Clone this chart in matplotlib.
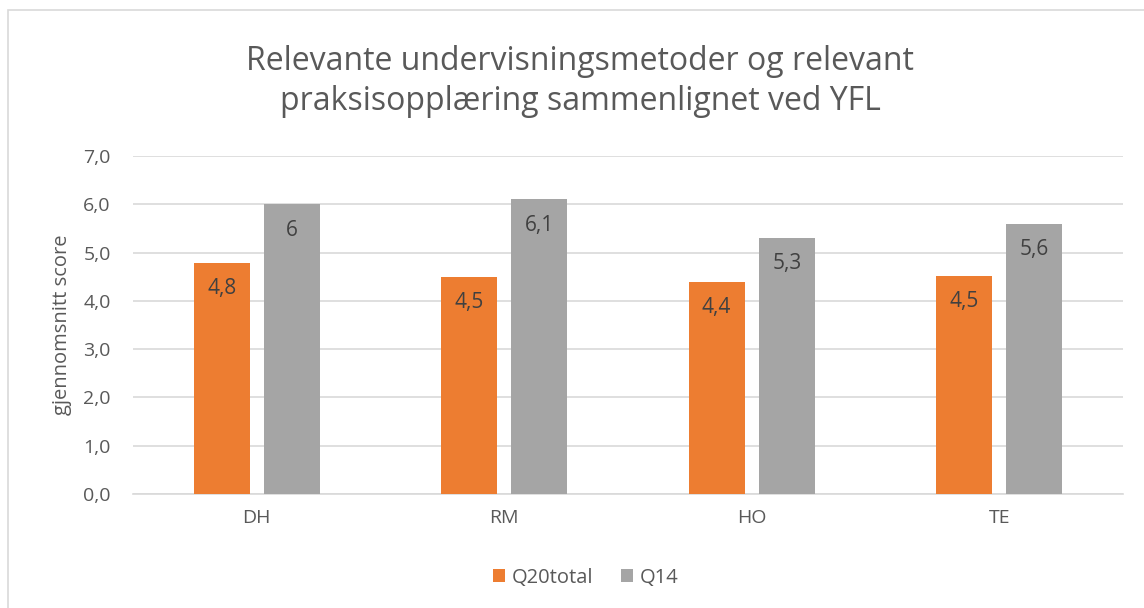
import matplotlib.pyplot as plt
import numpy as np
from matplotlib.patches import Rectangle

categories = ['DH', 'RM', 'HO', 'TE']
q20total = [4.78, 4.49, 4.39, 4.52]
q14 = [6.0, 6.1, 5.3, 5.6]
series_names = ['Q20total', 'Q14']
yticks = [0, 1, 2, 3, 4, 5, 6, 7]

ORANGE = '#ED7D31'
GRAY = '#A5A5A5'
TXT = '#595959'

plt.rcParams['font.family'] = ['Open Sans', 'DejaVu Sans']


def fmt(v):
    s = '%.1f' % v
    s = s.rstrip('0').rstrip('.')
    return s.replace('.', ',')


fig = plt.figure(figsize=(11.44, 6.08), dpi=100)
ax = fig.add_axes([0.1163, 0.1875, 0.8654, 0.5559])

x = np.arange(len(categories))
w = 0.226
b1 = ax.bar(x - 0.142, q20total, w, color=ORANGE, label=series_names[0], zorder=3)
b2 = ax.bar(x + 0.142, q14, w, color=GRAY, label=series_names[1], zorder=3)

for bars, vals in ((b1, q20total), (b2, q14)):
    for r, v in zip(bars, vals):
        ax.annotate(fmt(v), (r.get_x() + r.get_width() / 2, v),
                    xytext=(0, -11), textcoords='offset points',
                    ha='center', va='top', fontsize=15, color='#404040', zorder=4)

ax.set_xlim(-0.5, len(categories) - 0.5)
ax.set_ylim(0, 7)
ax.set_yticks(yticks)
ax.set_yticklabels([('%.1f' % t).replace('.', ',') for t in yticks])
ax.set_xticks(x)
ax.set_xticklabels(categories)
ax.tick_params(axis='both', length=0, labelsize=14, colors=TXT)
ax.tick_params(axis='x', pad=11)
ax.tick_params(axis='y', pad=16)
ax.grid(axis='y', color='#D9D9D9', linewidth=1.2, zorder=0)
for s in ['top', 'right', 'left']:
    ax.spines[s].set_visible(False)
ax.spines['bottom'].set_color('#D9D9D9')
ax.spines['bottom'].set_linewidth(1.2)

ax.set_ylabel('gjennomsnitt score', fontsize=14.5, color=TXT, labelpad=8)

fig.text(0.507, 0.866, 'Relevante undervisningsmetoder og relevant\npraksisopplæring sammenlignet ved YFL',
         ha='center', va='center', fontsize=23, color=TXT, linespacing=1.3)

leg = fig.legend(loc='center', bbox_to_anchor=(0.512, 0.05), ncol=2, frameon=False,
                 fontsize=14.5, handlelength=0.6, handleheight=0.6, columnspacing=1.4,
                 handletextpad=0.3)
for t in leg.get_texts():
    t.set_color(TXT)

fig.patches.append(Rectangle((0.007, -0.1), 1.1, 1.084, transform=fig.transFigure,
                             fill=False, edgecolor='#D9D9D9', linewidth=1.2))

fig.savefig('out.png', dpi=100)
